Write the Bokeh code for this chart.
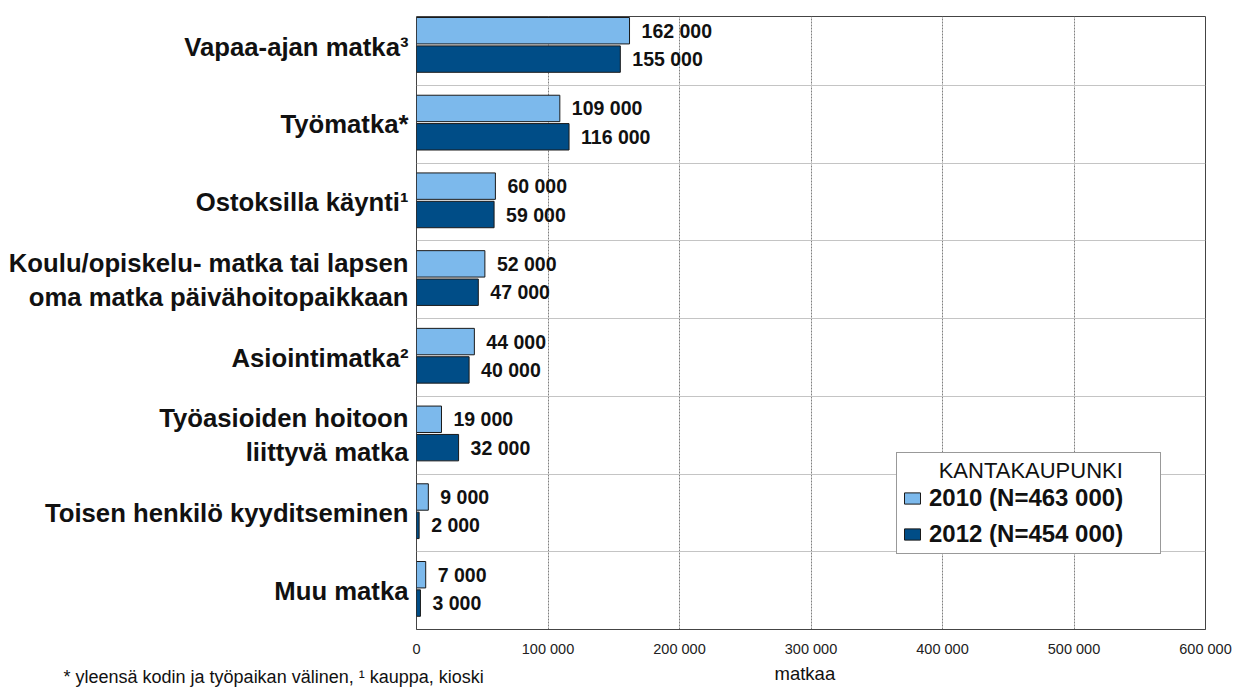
from bokeh.plotting import figure
from bokeh.models import ColumnDataSource, Range1d, FixedTicker, Legend, LegendItem, Title
from bokeh.transform import dodge
from bokeh.core.properties import value
from bokeh.embed import file_html
from bokeh.resources import INLINE

categories = [
    "Vapaa-ajan matka³",
    "Työmatka*",
    "Ostoksilla käynti¹",
    "Koulu/opiskelu- matka tai lapsen\noma matka päivähoitopaikkaan",
    "Asiointimatka²",
    "Työasioiden hoitoon\nliittyvä matka",
    "Toisen henkilö kyyditseminen",
    "Muu matka",
]
series_names = ["2010 (N=463 000)", "2012 (N=454 000)"]
v2010 = [162000, 109000, 60000, 52000, 44000, 19000, 9000, 7000]
v2012 = [155000, 116000, 59000, 47000, 40000, 32000, 2000, 3000]
x_ticks = [0, 100000, 200000, 300000, 400000, 500000, 600000]
legend_title = "KANTAKAUPUNKI"
x_label = "matkaa"
footnote = "* yleensä kodin ja työpaikan välinen, ¹ kauppa, kioski"

C10 = "#7CB9EC"
C12 = "#004D87"
FONT = "Liberation Sans"


def fmt(v):
    return f"{v:,}".replace(",", " ")


n = len(categories)
ypos = [n - 1 - i for i in range(n)]
src = ColumnDataSource(dict(
    y=ypos, v10=v2010, v12=v2012,
    t10=[fmt(v) for v in v2010], t12=[fmt(v) for v in v2012],
))

W = 1238
p = figure(width=W, height=695, output_backend="svg", toolbar_location=None,
           x_range=Range1d(0, 600000), y_range=Range1d(-0.5, 7.388),
           min_border_left=416, min_border_right=33, min_border_top=16, min_border_bottom=66)
p.background_fill_color = "white"
p.border_fill_color = "white"
p.outline_line_color = "#444444"

OFF10, OFF12, H = 0.205, -0.16, 0.34
r10 = p.hbar(y=dodge("y", OFF10), left=0, right="v10", height=H, source=src,
             fill_color=C10, line_color="#1a1a1a", line_width=1)
r12 = p.hbar(y=dodge("y", OFF12), left=0, right="v12", height=H, source=src,
             fill_color=C12, line_color="#1a1a1a", line_width=1)

for col, off in (("10", OFF10), ("12", OFF12)):
    p.text(x="v" + col, y=dodge("y", off), text="t" + col, source=src,
           x_offset=12, text_align="left", text_baseline="middle",
           text_font=value(FONT), text_font_style="bold", text_font_size="19.5px",
           text_color="#111111")

# axes
p.yaxis.ticker = FixedTicker(ticks=ypos)
p.yaxis.major_label_overrides = {y: c for y, c in zip(ypos, categories)}
p.yaxis.major_label_text_font = FONT
p.yaxis.major_label_text_font_style = "bold"
p.yaxis.major_label_text_font_size = "25.7px"
p.yaxis.major_label_text_color = "#111111"
p.yaxis.major_label_standoff = 8
p.yaxis.major_tick_out = 0
p.yaxis.major_tick_in = 0
p.yaxis.axis_line_color = None
p.yaxis.major_tick_line_color = None
p.yaxis.minor_tick_line_color = None

p.xaxis.ticker = FixedTicker(ticks=x_ticks)
p.xaxis.major_label_overrides = {t: fmt(t) for t in x_ticks}
p.xaxis.major_label_text_font = FONT
p.xaxis.major_label_text_font_size = "14.5px"
p.xaxis.major_label_text_color = "#222222"
p.xaxis.major_label_standoff = 11
p.xaxis.major_tick_out = 0
p.xaxis.major_tick_in = 0
p.xaxis.axis_line_color = "#444444"
p.xaxis.major_tick_line_color = None
p.xaxis.minor_tick_line_color = None

p.xgrid.grid_line_color = "#808080"
p.xgrid.grid_line_dash = "2 1"
p.ygrid.ticker = FixedTicker(ticks=[y + 0.5 for y in ypos[1:]])
p.ygrid.grid_line_color = "#c4c4c4"

legend = Legend(
    items=[LegendItem(label=series_names[0], renderers=[r10]),
           LegendItem(label=series_names[1], renderers=[r12])],
    location=(480, 75), title="\u00a0" * 6 + legend_title,
    title_text_font=FONT, title_text_font_size="22px", title_text_font_style="normal",
    title_text_color="#111111", title_standoff=0,
    label_text_font=FONT, label_text_font_style="bold", label_text_font_size="24px",
    label_text_color="#111111", label_width=226, label_height=22,
    glyph_width=20, glyph_height=14, label_standoff=7, spacing=8, padding=5,
    border_line_color="#333333", border_line_width=1, background_fill_alpha=1,
    margin=0,
)
p.add_layout(legend)

# footnote and axis title below the x axis, on the same row
foot = Title(text=footnote, align="left", offset=-353, vertical_align="top", standoff=14,
             text_font=FONT, text_font_size="18px", text_font_style="normal",
             text_color="#111111")
xt = Title(text=x_label, align="left", offset=358, vertical_align="top", standoff=-66,
           text_font=FONT, text_font_size="18.5px", text_font_style="normal",
           text_color="#111111")
p.add_layout(foot, "below")
p.add_layout(xt, "below")

open("out.html", "w").write(file_html(p, INLINE))
